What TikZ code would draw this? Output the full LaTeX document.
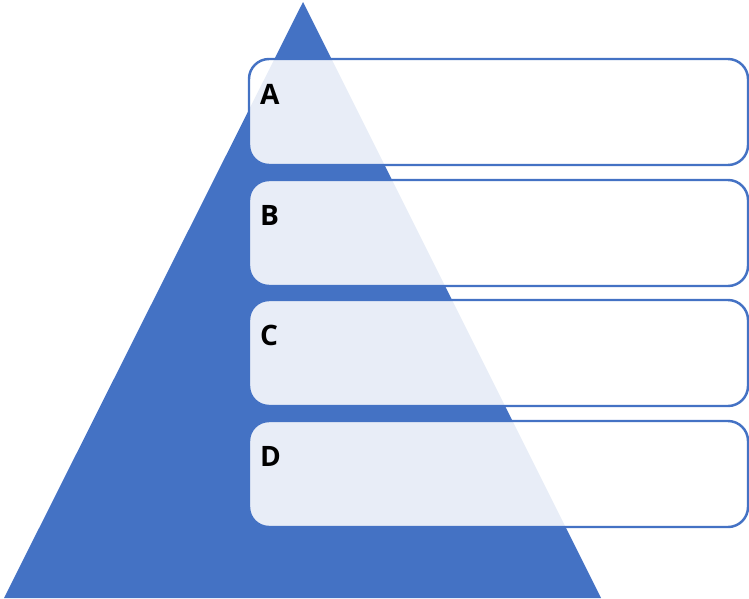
\documentclass[tikz,border=0pt]{standalone}
\usepackage{fontspec}
\setsansfont{Open Sans}
\usetikzlibrary{calc}
\definecolor{pyrblue}{HTML}{4472C4}
\tikzstyle{every node}=[font=\sffamily\bfseries\fontsize{16}{19}\selectfont]
\tikzstyle{levelbox}=[draw=pyrblue,line width=1.4pt,fill=white,fill opacity=0.88,
  rounded corners=4mm,minimum width=99.8mm,minimum height=21.2mm,inner sep=0pt]
\tikzstyle{levellabel}=[anchor=base west,inner sep=0pt,text=black]

\begin{document}
\begin{tikzpicture}[x=0.2mm,y=-0.2mm]
  \useasboundingbox (0,0) rectangle (749,598);
  % pyramid
  \fill[pyrblue] (303,2)--(601,598)--(4,598)--cycle;
  % levels
  \node[levelbox] (boxA) at (498.5,112) {};
  \node[levelbox] (boxB) at (498.5,233) {};
  \node[levelbox] (boxC) at (498.5,353) {};
  \node[levelbox] (boxD) at (498.5,474) {};
  \node[levellabel] (labA) at ($(boxA.north west)+(12,47)$) {A};
  \node[levellabel] (labB) at ($(boxB.north west)+(12,47)$) {B};
  \node[levellabel] (labC) at ($(boxC.north west)+(12,47)$) {C};
  \node[levellabel] (labD) at ($(boxD.north west)+(12,47)$) {D};
\end{tikzpicture}
\end{document}
